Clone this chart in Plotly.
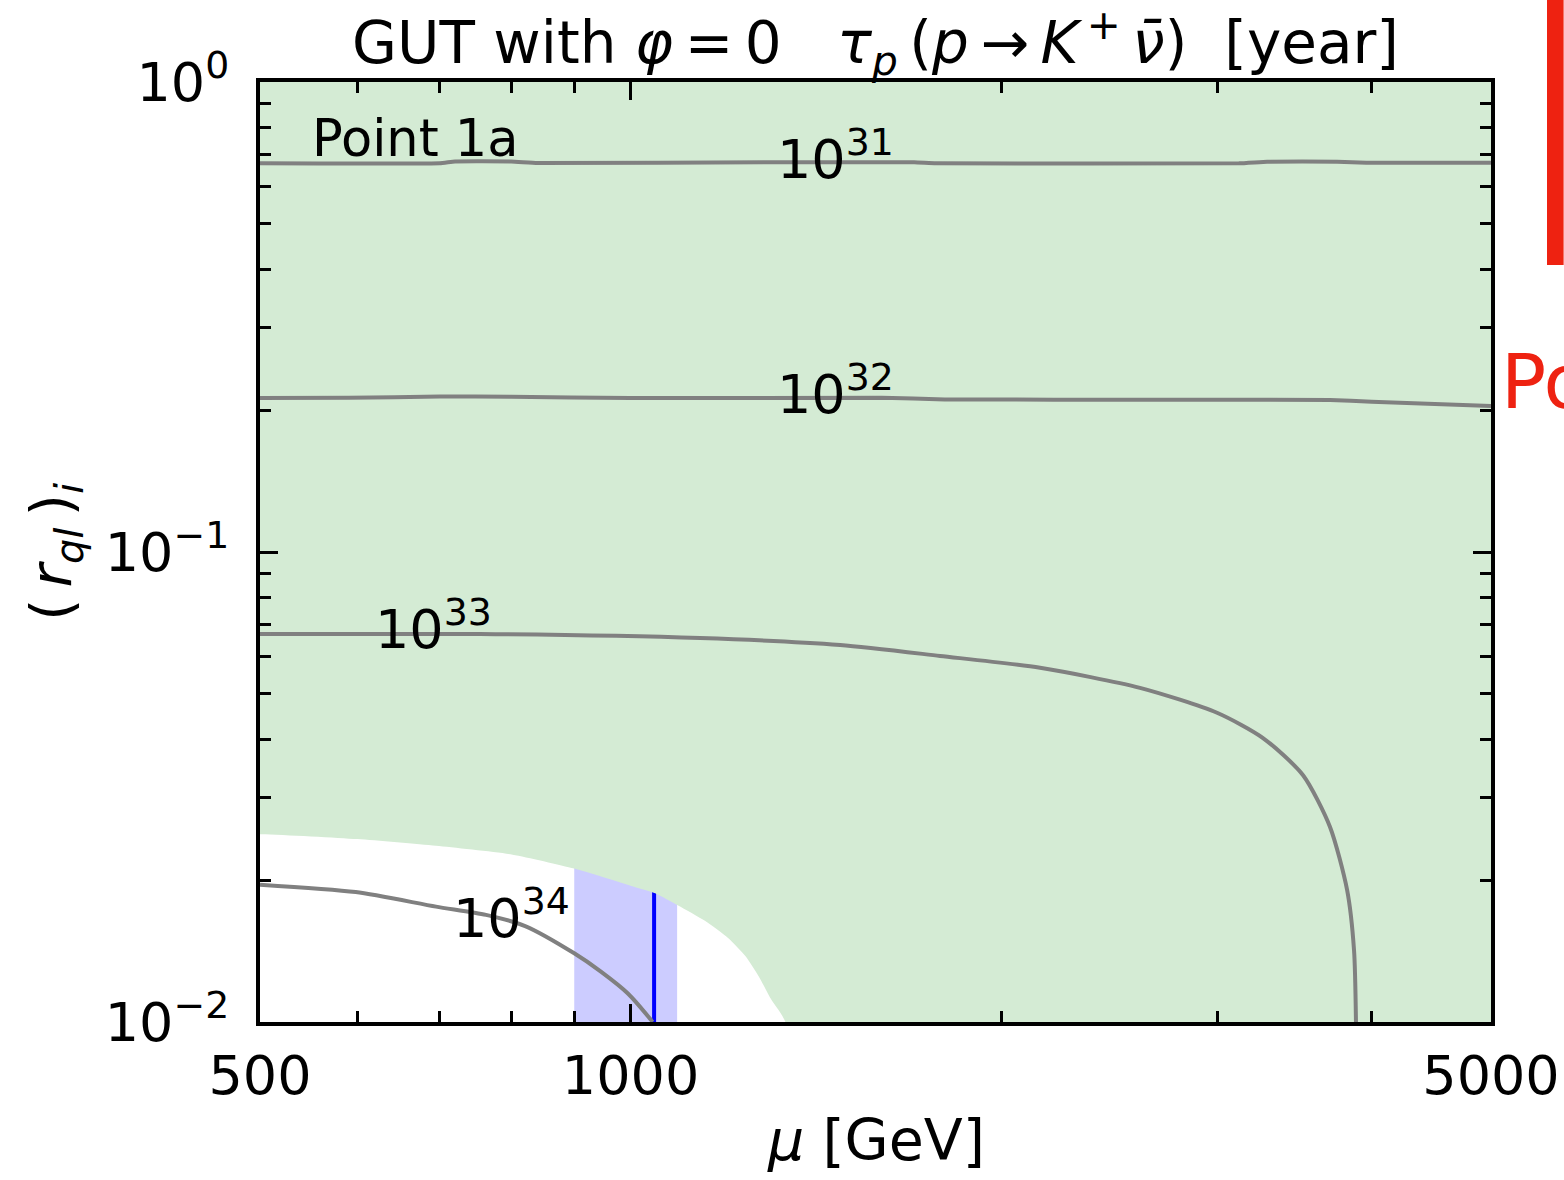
import numpy as np
import plotly.graph_objects as go

# ---- data -------------------------------------------------------------
# axis ticks
x_tick_vals = [500, 1000, 5000]
x_tick_text = ["500", "1000", "5000"]
x_minor_vals = [600, 700, 800, 900, 2000, 3000, 4000]
y_tick_vals = [0.01, 0.1, 1.0]
y_tick_text = ["10<sup>\u22122</sup>", "10<sup>\u22121</sup>", "10<sup>0</sup>"]
y_minor_vals = [0.02, 0.03, 0.04, 0.05, 0.06, 0.07, 0.08, 0.09,
                0.2, 0.3, 0.4, 0.5, 0.6, 0.7, 0.8, 0.9]

# edge of the excluded (green) region
excl_mu = [500, 600, 695, 802, 900, 1000, 1047, 1093, 1150, 1200, 1240, 1271, 1300, 1336]
excl_r = [0.0251, 0.0245, 0.0237, 0.0227, 0.0212, 0.0195, 0.0188, 0.0177,
          0.0164, 0.0151, 0.0138, 0.0125, 0.0112, 0.0100]

# mu band and central value
band_mu = [900, 1091]
mu_central = 1045

# proton lifetime contours tau_p [year]
c31_mu = [500, 700, 720, 800, 840, 1320, 1700, 1770, 3120, 3290, 3750, 3960, 5000]
c31_r = [0.6715, 0.6715, 0.6775, 0.6775, 0.6724, 0.6748, 0.6748, 0.6715,
         0.6715, 0.6768, 0.6768, 0.6735, 0.6735]

c32_mu = [500, 590, 700, 800, 1000, 1600, 1800, 2700, 3700, 4000, 5000]
c32_r = [0.2127, 0.2129, 0.2142, 0.2140, 0.2126, 0.2128, 0.2112, 0.2108,
         0.2106, 0.2088, 0.2045]

c33_mu = [500, 755, 1139, 1480, 1784, 2151, 2593, 2995, 3264, 3518, 3700,
          3820, 3870, 3884]
c33_r = [0.0669, 0.0669, 0.0656, 0.0634, 0.0601, 0.0567, 0.0514, 0.0455,
         0.0402, 0.0335, 0.0260, 0.0191, 0.0142, 0.0100]

c34_mu = [500, 598, 695, 763, 821, 900, 946, 995, 1039, 1042]
c34_r = [0.0196, 0.0189, 0.0176, 0.0169, 0.0160, 0.0140, 0.0128, 0.0115,
         0.0101, 0.0100]

contour_labels = ["10<sup>31</sup>", "10<sup>32</sup>", "10<sup>33</sup>", "10<sup>34</sup>"]
label_mu = [1468, 1468, 692, 800]
label_r = [0.696, 0.221, 0.0696, 0.0169]

FONT = "DejaVu Sans"
GREEN = "rgb(212,235,212)"
GREY = "rgb(128,128,128)"
RED = "rgb(238,34,17)"

fig = go.Figure()

# mu band (lies below the excluded region)
fig.add_trace(go.Scatter(
    x=[band_mu[0], band_mu[1], band_mu[1], band_mu[0], band_mu[0]],
    y=[0.01, 0.01, 0.05, 0.05, 0.01],
    fill="toself", fillcolor="rgb(204,204,255)", mode="none",
    hoverinfo="skip", showlegend=False))
fig.add_trace(go.Scatter(
    x=[mu_central, mu_central], y=[0.01, 0.05], mode="lines",
    line=dict(color="rgb(0,0,255)", width=4), hoverinfo="skip", showlegend=False))

# excluded region: boundary curve closed through points outside the axes range
poly_x = [300] + excl_mu + [1400, 9000, 9000, 300, 300]
poly_y = [excl_r[0]] + excl_r + [0.005, 0.005, 3.0, 3.0, excl_r[0]]
fig.add_trace(go.Scatter(
    x=poly_x, y=poly_y, fill="toself", fillcolor=GREEN, mode="lines",
    line=dict(width=0, color=GREEN, shape="spline", smoothing=0.6),
    hoverinfo="skip", showlegend=False))

# lifetime contours
for mx, ry, sm in [(c31_mu, c31_r, 0.3), (c32_mu, c32_r, 0.3),
                   (c33_mu, c33_r, 0.7), (c34_mu, c34_r, 0.7)]:
    fig.add_trace(go.Scatter(
        x=mx, y=ry, mode="lines",
        line=dict(color=GREY, width=4, shape="spline", smoothing=sm),
        hoverinfo="skip", showlegend=False))

annotations = []
for txt, mx, ry in zip(contour_labels, label_mu, label_r):
    annotations.append(dict(
        x=np.log10(mx), y=np.log10(ry), xref="x", yref="y", text=txt,
        showarrow=False, xanchor="center", yanchor="middle",
        font=dict(family=FONT, size=54, color="black")))

annotations.append(dict(
    x=np.log10(549), y=np.log10(0.760), xref="x", yref="y", text="Point 1a",
    showarrow=False, xanchor="left", yanchor="middle",
    font=dict(family=FONT, size=51, color="black")))

# axis titles
annotations.append(dict(
    x=0.5, y=-0.1255, xref="paper", yref="paper",
    text="<i>\u03bc</i> [GeV]", showarrow=False,
    xanchor="center", yanchor="middle",
    font=dict(family=FONT, size=57, color="black")))
annotations.append(dict(
    x=-0.1665, y=0.5, xref="paper", yref="paper",
    text="(\u2009<i>r</i><sub><i>ql</i></sub>\u2009)<sub><i>i</i></sub>", showarrow=False,
    textangle=-90, xanchor="center", yanchor="middle",
    font=dict(family=FONT, size=57, color="black")))

# neighbouring panel label
annotations.append(dict(
    x=1.0065, y=0.681, xref="paper", yref="paper", text="Po",
    showarrow=False, xanchor="left", yanchor="middle",
    font=dict(family=FONT, size=75, color=RED)))

title_text = ("GUT with <i>\u03c6</i>\u2009=\u20090\u00a0\u00a0\u00a0"
              "<i>\u03c4</i><sub><i>p</i></sub>\u2009(<i>p</i>\u2009\u2192\u2009<i>K</i>"
              "<sup>\u2009+</sup>\u2009<i>\u03bd\u0304</i>)\u00a0\u00a0[year]")

fig.update_layout(
    width=1564, height=1180,
    margin=dict(l=260, r=73, t=82, b=158, autoexpand=False),
    paper_bgcolor="white", plot_bgcolor="white",
    title=dict(text=title_text, x=0.5, xref="paper", xanchor="center",
               y=1 - 43 / 1180, yref="container", yanchor="middle",
               font=dict(family=FONT, size=58, color="black")),
    annotations=annotations,
    shapes=[dict(type="rect", xref="paper", yref="paper",
                 x0=1.0455, x1=1.0590, y0=0.8053, y1=1.09,
                 fillcolor=RED, line=dict(width=0))],
    showlegend=False,
)

fig.update_xaxes(
    type="log", range=[np.log10(500), np.log10(5000)], automargin=False,
    tickmode="array", tickvals=x_tick_vals, ticktext=x_tick_text,
    ticks="inside", ticklen=18, tickwidth=3, tickcolor="black",
    showline=True, linewidth=4, linecolor="black", mirror="allticks",
    showgrid=False, zeroline=False, ticklabelstandoff=3,
    tickfont=dict(family=FONT, size=54, color="black"),
    minor=dict(tickmode="array", tickvals=x_minor_vals, ticks="inside",
               ticklen=11, tickwidth=2.5, tickcolor="black", showgrid=False),
)
fig.update_yaxes(
    type="log", range=[-2, 0], automargin=False,
    tickmode="array", tickvals=y_tick_vals, ticktext=y_tick_text,
    ticks="inside", ticklen=18, tickwidth=3, tickcolor="black",
    showline=True, linewidth=4, linecolor="black", mirror="allticks",
    showgrid=False, zeroline=False, ticklabelstandoff=16,
    tickfont=dict(family=FONT, size=54, color="black"),
    minor=dict(tickmode="array", tickvals=y_minor_vals, ticks="inside",
               ticklen=11, tickwidth=2.5, tickcolor="black", showgrid=False),
)

fig.write_html("out.html")
